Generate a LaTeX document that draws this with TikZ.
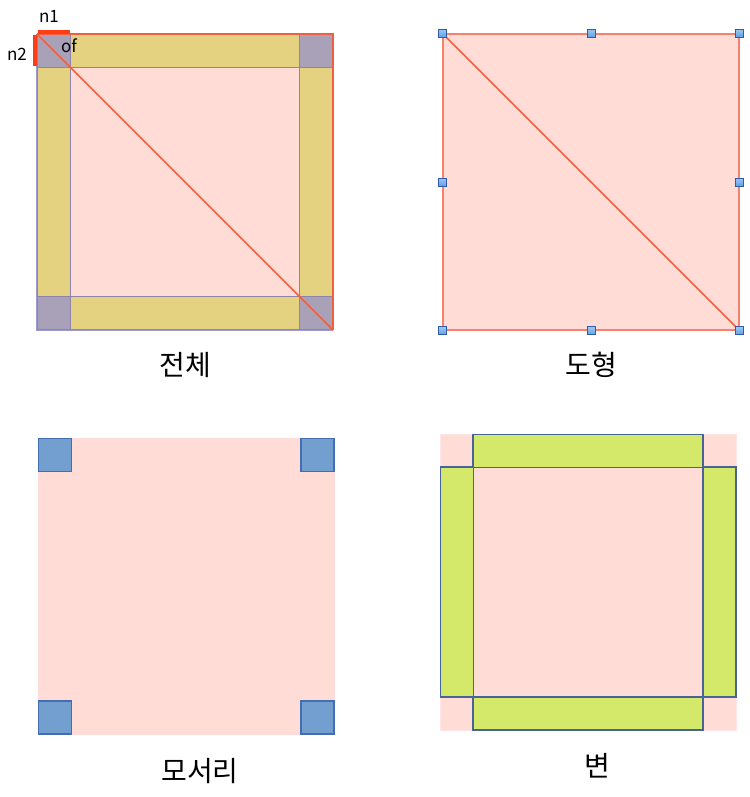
\documentclass[tikz,border=0pt]{standalone}
\usepackage{fontspec}
\setmainfont{Noto Sans CJK KR}
\usetikzlibrary{positioning}
\definecolor{shapepink}{RGB}{255,221,214}
\definecolor{sandbar}{RGB}{228,210,128}
\definecolor{greycell}{RGB}{169,161,183}
\definecolor{cellline}{RGB}{140,132,170}
\definecolor{diagred}{RGB}{240,96,64}
\definecolor{shapeline}{RGB}{245,130,110}
\definecolor{markred}{RGB}{255,60,20}
\definecolor{cornerblue}{RGB}{114,159,207}
\definecolor{cornerline}{RGB}{68,110,180}
\definecolor{edgegreen}{RGB}{212,232,106}
\definecolor{edgeline}{RGB}{72,100,150}
\definecolor{handleblue}{RGB}{92,162,232}
\definecolor{handleline}{RGB}{50,90,170}
\tikzset{
  panel/.style={
    fill=shapepink,
    inner sep=0pt,
    minimum size=296pt
  },
  cellbox/.style={
    fill=greycell,
    draw=cellline,
    line width=0.8pt,
    inner sep=0pt,
    minimum size=33pt
  },
  sandbox/.style={
    cellbox,
    fill=sandbar
  },
  cornerbox/.style={
    fill=cornerblue,
    draw=cornerline,
    line width=1.2pt,
    inner sep=0pt,
    minimum size=33pt
  },
  greenbox/.style={
    fill=edgegreen,
    draw=edgeline,
    line width=1.2pt,
    inner sep=0pt
  },
  handle/.style={
    top color=handleblue!60!white,
    bottom color=handleblue,
    draw=handleline,
    line width=0.8pt,
    inner sep=0pt,
    minimum size=8pt
  },
  caption/.style={font=\fontsize{28}{32}\selectfont},
  tag/.style={font=\fontsize{17}{19}\selectfont,inner sep=0pt}
}
\begin{document}
\begin{tikzpicture}[x=1pt,y=-1pt]
\useasboundingbox (0,0) rectangle (749,797);
% whole
\node[panel] (whole) at (185,182) {};
\node[sandbox,anchor=north,minimum width=230pt] (wtop) at (whole.north) {};
\node[sandbox,anchor=south,minimum width=230pt] (wbot) at (whole.south) {};
\node[sandbox,anchor=west,minimum height=230pt] (wleft) at (whole.west) {};
\node[sandbox,anchor=east,minimum height=230pt] (wright) at (whole.east) {};
\foreach \a in {north west,north east,south west,south east}
  \node[cellbox,anchor=\a] at (whole.\a) {};
\draw[cellline!70!blue!60,line width=1pt] (whole.north west)--(whole.south west)--(whole.south east);
\draw[diagred,line width=1.5pt] (whole.north west)--(whole.north east)--(whole.south east);
\draw[diagred,line width=1.5pt] (whole.north west)--(whole.south east);
\coordinate (n1a) at (38,32);
\coordinate (n1b) at (70,32);
\coordinate (n2a) at (35,35);
\coordinate (n2b) at (35,66);
\draw[markred,line width=4pt] (n1a)--(n1b);
\draw[markred,line width=4pt] (n2a)--(n2b);
\node[tag] (tn1) at (49,16) {n1};
\node[tag] (tn2) at (17,54) {n2};
\node[tag] (tof) at (69,46) {of};
\node[caption] (capwhole) at (185,365) {전체};
% shape
\node[panel,draw=shapeline,line width=1.5pt] (shape) at (591,182) {};
\draw[diagred,line width=1.5pt] (shape.north west)--(shape.south east);
\foreach \a in {north west,north,north east,east,south east,south,south west,west}
  \node[handle] at (shape.\a) {};
\node[caption] (capshape) at (591,365) {도형};
% corners
\node[panel,draw=pink!60!red!25,line width=1pt] (corner) at (186,586) {};
\foreach \a in {north west,north east,south west,south east}
  \node[cornerbox,anchor=\a] at (corner.\a) {};
\node[caption] (capcorner) at (200,771) {모서리};
% edges
\node[panel,draw=pink!40,line width=1pt] (edge) at (588,582) {};
\node[greenbox,anchor=north,minimum width=230pt,minimum height=33pt] (etop) at (edge.north) {};
\node[greenbox,anchor=south,minimum width=230pt,minimum height=33pt] (ebot) at (edge.south) {};
\node[greenbox,anchor=west,minimum width=33pt,minimum height=230pt] (eleft) at (edge.west) {};
\node[greenbox,anchor=east,minimum width=33pt,minimum height=230pt] (eright) at (edge.east) {};
\node[caption] (capedge) at (597,766) {변};
\end{tikzpicture}
\end{document}
